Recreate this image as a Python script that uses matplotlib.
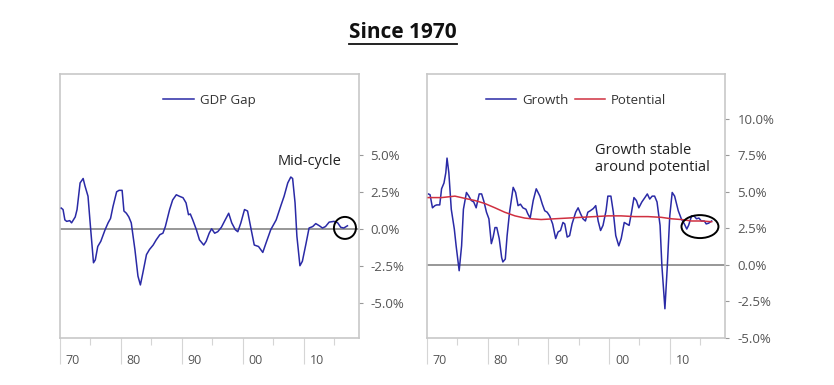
import matplotlib
matplotlib.use("Agg")
import matplotlib.pyplot as plt
import matplotlib.transforms as mtransforms
from matplotlib.patches import Ellipse
from matplotlib.lines import Line2D

plt.rcParams['font.family'] = ['Open Sans', 'DejaVu Sans']

# ---- data ----
gap_year = [1970.2, 1970.5, 1970.8, 1971.1, 1971.6, 1971.9, 1972.5, 1972.8, 1973.3, 1973.8,
            1974.1, 1974.6, 1975.0, 1975.5, 1975.8, 1976.2, 1976.7, 1977.4, 1977.9, 1978.3,
            1978.7, 1979.3, 1979.7, 1980.2, 1980.5, 1980.9, 1981.3, 1981.7, 1982.3, 1982.8,
            1983.2, 1983.6, 1984.2, 1984.7, 1985.3, 1985.8, 1986.4, 1986.9, 1987.3, 1988.0,
            1988.5, 1989.1, 1989.6, 1990.2, 1990.7, 1991.1, 1991.4, 1991.8, 1992.4, 1992.9,
            1993.6, 1994.0, 1994.5, 1994.9, 1995.4, 1995.9, 1996.5, 1997.0, 1997.7, 1998.2,
            1998.8, 1999.2, 1999.7, 2000.3, 2000.8, 2001.4, 2001.9, 2002.6, 2003.3, 2003.8,
            2004.6, 2005.5, 2006.3, 2006.8, 2007.4, 2007.9, 2008.2, 2008.6, 2008.9, 2009.4,
            2009.8, 2010.4, 2010.9, 2011.5, 2012.0, 2012.6, 2013.1, 2013.6, 2014.2, 2015.0,
            2015.6, 2016.1, 2016.6, 2017.2]
gdp_gap = [1.4, 1.3, 0.6, 0.5, 0.55, 0.4, 0.8, 1.3, 3.1, 3.4,
           2.9, 2.2, 0.15, -2.3, -2.1, -1.2, -0.85, -0.07, 0.4, 0.7,
           1.5, 2.5, 2.6, 2.6, 1.2, 1.05, 0.8, 0.4, -1.4, -3.2,
           -3.8, -3.0, -1.75, -1.4, -1.1, -0.75, -0.4, -0.3, 0.15, 1.3,
           1.95, 2.3, 2.2, 2.1, 1.75, 0.95, 1.0, 0.6, -0.07, -0.75,
           -1.1, -0.85, -0.3, 0.0, -0.3, -0.2, 0.1, 0.5, 1.05, 0.4,
           -0.07, -0.2, 0.4, 1.3, 1.2, -0.07, -1.1, -1.2, -1.6, -1.0,
           -0.07, 0.6, 1.6, 2.2, 3.1, 3.5, 3.4, 1.75, -0.5, -2.5,
           -2.2, -1.0, 0.05, 0.15, 0.35, 0.2, 0.05, 0.15, 0.45, 0.5,
           0.4, 0.1, 0.05, 0.2]

growth_year = [1970.2, 1970.5, 1970.9, 1971.3, 1971.6, 1972.1, 1972.4, 1972.8, 1973.1, 1973.3,
               1973.6, 1974.0, 1974.5, 1974.8, 1975.3, 1975.7, 1976.0, 1976.5, 1976.9, 1977.3,
               1977.7, 1978.1, 1978.6, 1979.0, 1979.4, 1979.8, 1980.2, 1980.6, 1980.9, 1981.2,
               1981.5, 1981.9, 1982.3, 1982.5, 1982.9, 1983.2, 1983.6, 1984.2, 1984.6, 1985.0,
               1985.4, 1985.8, 1986.3, 1986.6, 1987.0, 1987.5, 1988.0, 1988.6, 1989.0, 1989.4,
               1989.8, 1990.2, 1990.7, 1991.2, 1991.6, 1992.0, 1992.4, 1992.7, 1993.1, 1993.5,
               1993.9, 1994.5, 1994.9, 1995.3, 1995.7, 1996.1, 1996.5, 1996.9, 1997.4, 1997.8,
               1998.2, 1998.6, 1999.0, 1999.5, 1999.8, 2000.3, 2000.7, 2001.1, 2001.6, 2002.0,
               2002.5, 2002.9, 2003.3, 2003.7, 2004.1, 2004.5, 2004.9, 2005.4, 2005.9, 2006.3,
               2006.7, 2007.1, 2007.5, 2007.9, 2008.4, 2008.7, 2009.2, 2009.6, 2010.0, 2010.4,
               2010.8, 2011.4, 2011.9, 2012.4, 2012.8, 2013.1, 2013.6, 2014.0, 2014.4, 2014.8,
               2015.2, 2015.7, 2016.0, 2016.4, 2016.9]
growth = [4.85, 4.8, 3.9, 4.05, 4.1, 4.1, 5.2, 5.6, 6.3, 7.3,
          6.3, 3.8, 2.45, 1.3, -0.4, 1.3, 3.8, 4.95, 4.7, 4.4,
          4.3, 3.9, 4.85, 4.85, 4.3, 3.6, 3.15, 1.45, 1.9, 2.55,
          2.55, 1.8, 0.5, 0.2, 0.4, 2.0, 3.6, 5.3, 4.95, 4.05,
          4.15, 3.9, 3.8, 3.5, 3.2, 4.4, 5.2, 4.7, 4.15, 3.7,
          3.6, 3.35, 2.8, 1.8, 2.25, 2.35, 2.9, 2.8, 1.9, 2.0,
          2.8, 3.6, 3.9, 3.5, 3.15, 3.0, 3.6, 3.7, 3.85, 4.05,
          3.0, 2.35, 2.7, 3.7, 4.7, 4.7, 3.6, 2.0, 1.3, 1.8,
          2.9, 2.8, 2.7, 3.6, 4.6, 4.4, 3.9, 4.3, 4.6, 4.85,
          4.5, 4.7, 4.7, 4.3, 2.7, -0.05, -3.0, -0.05, 3.35, 4.95,
          4.7, 3.7, 3.15, 2.8, 2.45, 2.7, 3.35, 3.35, 3.15, 3.2,
          3.0, 3.0, 2.8, 2.85, 3.0]

potential_year = [1970.2, 1972.4, 1974.6, 1976.2, 1977.9, 1979.5, 1981.2, 1982.8, 1984.5, 1986.1,
                  1987.2, 1988.8, 1991.0, 1993.2, 1995.4, 1997.6, 1999.8, 2002.0, 2004.2, 2006.4,
                  2008.6, 2010.3, 2011.9, 2013.6, 2015.2, 2016.9]
potential = [4.6, 4.6, 4.7, 4.55, 4.4, 4.2, 3.9, 3.6, 3.35, 3.2,
             3.15, 3.1, 3.15, 3.2, 3.25, 3.3, 3.35, 3.35, 3.3, 3.3,
             3.25, 3.15, 3.1, 3.0, 3.0, 2.95]

decades = [1970, 1980, 1990, 2000, 2010]
decade_labels = ['70', '80', '90', '00', '10']
half_decades = [1975, 1985, 1995, 2005, 2015]
left_yticks = [-5.0, -2.5, 0.0, 2.5, 5.0]
right_yticks = [-5.0, -2.5, 0.0, 2.5, 5.0, 7.5, 10.0]

# ---- style ----
BLUE = '#2a2aa6'
RED = '#d03040'
SPINE = '#c8c8c8'
TXT = '#555555'
W, H = 834, 385
fig = plt.figure(figsize=(W / 100, H / 100), dpi=100)


def px_axes(x0, x1, y0, y1):
    return fig.add_axes([x0 / W, 1 - y1 / H, (x1 - x0) / W, (y1 - y0) / H])


def style(ax, yticks, ypad):
    for s in ax.spines.values():
        s.set_color(SPINE)
        s.set_linewidth(1.2)
    ax.axhline(0, color='#7a7a7a', lw=1.1, zorder=1)
    ax.set_xlim(1970, 2019.1)
    ax.yaxis.tick_right()
    ax.set_yticks(yticks)
    ax.set_yticklabels([f'{v:.1f}%' for v in yticks])
    ax.tick_params(axis='y', which='major', length=3, color='#999999', pad=ypad,
                   labelsize=9.5, labelcolor=TXT)
    ax.set_xticks(decades)
    ax.set_xticklabels(decade_labels)
    ax.set_xticks(half_decades, minor=True)
    ax.tick_params(axis='x', which='major', length=19, width=0.8, color='#d5d5d5',
                   labelsize=9, labelcolor=TXT, pad=2)
    ax.tick_params(axis='x', which='minor', length=5, width=0.8, color='#d5d5d5')
    off = mtransforms.ScaledTranslation(13 / 100, 13 / 100, fig.dpi_scale_trans)
    for lab in ax.get_xticklabels():
        lab.set_transform(lab.get_transform() + off)


# left panel
ax1 = px_axes(60, 359, 74, 338)
ax1.plot(gap_year, gdp_gap, color=BLUE, lw=1.1, label='GDP Gap', zorder=3)
ax1.set_ylim(-7.39, 10.47)
style(ax1, left_yticks, 5)
ax1.legend(loc='upper center', bbox_to_anchor=(0.5, 0.97), frameon=False, fontsize=9.5,
           handlelength=2.3, handletextpad=0.45, labelcolor='#333333')
ax1.text(0.729, 0.667, 'Mid-cycle', transform=ax1.transAxes, fontsize=10.5,
         color='#222222', va='center', ha='left')
ax1.add_patch(Ellipse((0.953, 0.417), 0.0736, 0.0833, transform=ax1.transAxes,
                      fill=False, ec='black', lw=1.4, zorder=5, clip_on=False))

# right panel
ax2 = px_axes(427, 725, 74, 338)
ax2.plot(potential_year, potential, color=RED, lw=1.1, label='Potential', zorder=3)
ax2.plot(growth_year, growth, color=BLUE, lw=1.1, label='Growth', zorder=2)
ax2.set_ylim(-5.0, 13.05)
style(ax2, right_yticks, 6)
h, l = ax2.get_legend_handles_labels()
ax2.legend([h[1], h[0]], [l[1], l[0]], loc='upper center', bbox_to_anchor=(0.5, 0.97),
           frameon=False, fontsize=9.5, ncol=2, handlelength=2.3, handletextpad=0.45,
           columnspacing=0.5, labelcolor='#333333')
ax2.text(0.564, 0.678, 'Growth stable\naround potential', transform=ax2.transAxes,
         fontsize=10.5, color='#222222', va='center', ha='left', linespacing=1.25)
ax2.add_patch(Ellipse((0.916, 0.422), 0.124, 0.087, transform=ax2.transAxes,
                      fill=False, ec='black', lw=1.4, zorder=5, clip_on=False))

# title with underline
t = fig.text(403 / W, 1 - 33 / H, 'Since 1970', ha='center', va='center',
             fontsize=15, fontweight='bold', color='#111111')
fig.canvas.draw()
bb = t.get_window_extent()
fig.add_artist(Line2D([bb.x0 / W, bb.x1 / W], [1 - 44 / H, 1 - 44 / H],
                      transform=fig.transFigure, color='#111111', lw=1.3))

fig.savefig('out.png', dpi=100)
